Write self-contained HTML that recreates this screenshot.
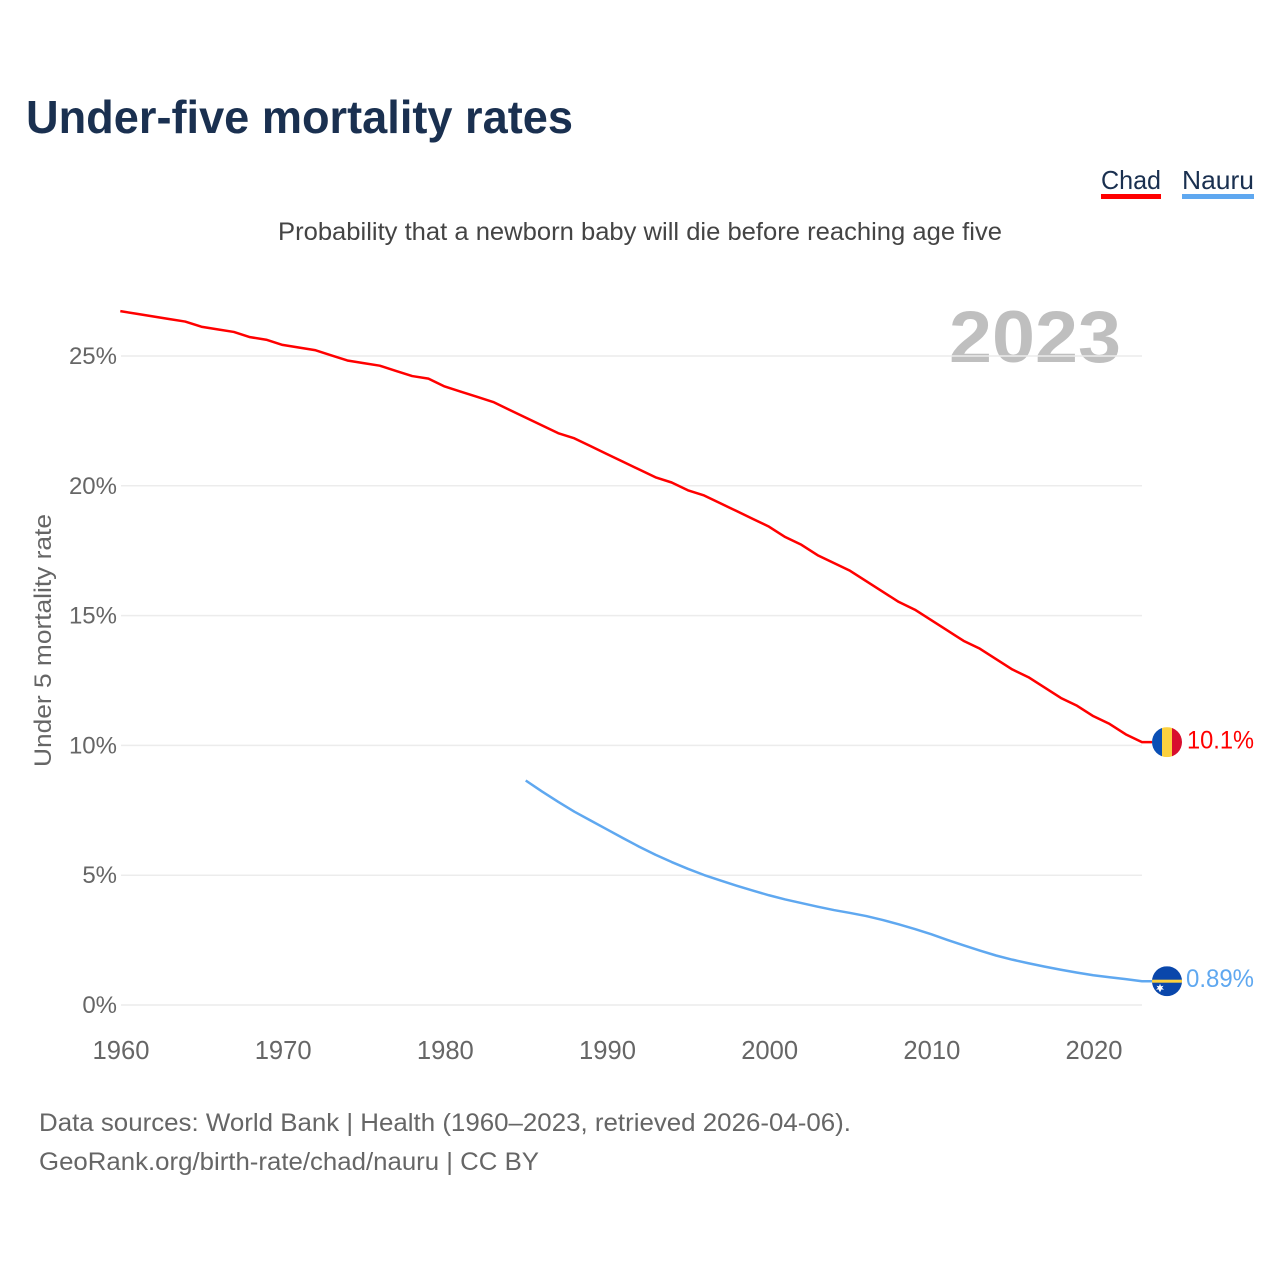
<!DOCTYPE html>
<html lang="en">
<head>
<meta charset="utf-8">
<title>Under-five mortality rates</title>
<style>
html,body{margin:0;padding:0;background:#fff;}
svg{display:block;}
text{font-family:"Liberation Sans",sans-serif;}
</style>
</head>
<body>
<svg id="chart" xmlns="http://www.w3.org/2000/svg" width="1280" height="1280" viewBox="0 0 1280 1280">
  <rect width="1280" height="1280" fill="#fff"/>
  <text x="26" y="133" font-size="46" font-weight="700" fill="#1a3050" textLength="547" lengthAdjust="spacingAndGlyphs">Under-five mortality rates</text>
  <g>
    <g>
      <text x="1101" y="189" font-size="26" fill="#1a3050" textLength="60" lengthAdjust="spacingAndGlyphs">Chad</text>
      <rect x="1101" y="194" width="60" height="5" fill="#ff0000"/>
    </g>
    <g>
      <text x="1182" y="189" font-size="26" fill="#1a3050" textLength="72" lengthAdjust="spacingAndGlyphs">Nauru</text>
      <rect x="1182" y="194" width="72" height="5" fill="#5fa8f0"/>
    </g>
  </g>
  <text x="278" y="240" font-size="25" fill="#444" textLength="724" lengthAdjust="spacingAndGlyphs">Probability that a newborn baby will die before reaching age five</text>
  <text x="949" y="362" font-size="73" font-weight="700" fill="#bfbfbf" textLength="172" lengthAdjust="spacingAndGlyphs">2023</text>
  <g id="grid"></g>
  <g id="yticks"></g>
  <g id="xticks"></g>
  <text transform="translate(51,767) rotate(-90)" x="0" y="0" font-size="24" fill="#666" textLength="253" lengthAdjust="spacingAndGlyphs">Under 5 mortality rate</text>
  <g id="series"></g>
  <defs>
    <clipPath id="flag-clip"><circle cx="0" cy="0" r="15"/></clipPath>
  </defs>
  <g id="flag-chad">
    <g clip-path="url(#flag-clip)">
      <rect x="-15" y="-15" width="10" height="30" fill="#0a4fb5"/>
      <rect x="-5" y="-15" width="10" height="30" fill="#fcd13f"/>
      <rect x="5" y="-15" width="10" height="30" fill="#d80f2e"/>
    </g>
  </g>
  <g id="flag-nauru">
    <g clip-path="url(#flag-clip)">
      <rect x="-15" y="-15" width="30" height="30" fill="#0a47ab"/>
      <rect x="-15" y="-1.5" width="30" height="3" fill="#fcd13f"/>
      <polygon points="-7,2.5 -6,5 -3.5,4.5 -5,6.5 -3,8.5 -5.5,8.2 -7,11 -8.5,8.2 -11,8.5 -9,6.5 -10.5,4.5 -8,5" fill="#fff"/>
    </g>
  </g>
  <text id="value-chad" x="1254" text-anchor="end" font-size="25" fill="#ff0000" textLength="67" lengthAdjust="spacingAndGlyphs">10.1%</text>
  <text id="value-nauru" x="1254" text-anchor="end" font-size="25" fill="#5fa8f0" textLength="68" lengthAdjust="spacingAndGlyphs">0.89%</text>
  <text x="39" y="1131" font-size="25" fill="#666" textLength="812" lengthAdjust="spacingAndGlyphs">Data sources: World Bank | Health (1960–2023, retrieved 2026-04-06).</text>
  <text x="39" y="1170" font-size="25" fill="#666" textLength="500" lengthAdjust="spacingAndGlyphs">GeoRank.org/birth-rate/chad/nauru | CC BY</text>
</svg>
<script>
var chadStartYear = 1960;
var nauruStartYear = 1985;
var chadValues = [26.7,26.6,26.5,26.4,26.3,26.1,26.0,25.9,25.7,25.6,25.4,25.3,25.2,25.0,24.8,24.7,24.6,24.4,24.2,24.1,23.8,23.6,23.4,23.2,22.9,22.6,22.3,22.0,21.8,21.5,21.2,20.9,20.6,20.3,20.1,19.8,19.6,19.3,19.0,18.7,18.4,18.0,17.7,17.3,17.0,16.7,16.3,15.9,15.5,15.2,14.8,14.4,14.0,13.7,13.3,12.9,12.6,12.2,11.8,11.5,11.1,10.8,10.4,10.1];
var nauruValues = [8.62,8.2,7.8,7.42,7.08,6.74,6.4,6.07,5.76,5.48,5.22,4.98,4.77,4.57,4.38,4.2,4.04,3.9,3.76,3.63,3.52,3.4,3.25,3.08,2.9,2.7,2.48,2.27,2.07,1.88,1.72,1.58,1.45,1.33,1.22,1.12,1.04,0.97,0.89];
var yTickValues = [0,5,10,15,20,25];
var xTickValues = [1960,1970,1980,1990,2000,2010,2020];

var NS = 'http://www.w3.org/2000/svg';
function x(year){ return 121 + (year - 1960) * 16.217; }
function y(v){ return 1005 - v * 25.96; }
function lineX(year){ return x(year) - 0.7; }
function lineY(v){ return y(v) - 0.7; }
function make(tag, parent){
  var el = document.createElementNS(NS, tag);
  parent.appendChild(el);
  return el;
}

var grid = document.getElementById('grid');
var yticks = document.getElementById('yticks');
yTickValues.forEach(function(v){
  var line = make('line', grid);
  
  
  line.setAttribute('x1', 121);
  line.setAttribute('x2', 1142);
  line.setAttribute('y1', y(v));
  line.setAttribute('y2', y(v));
  line.setAttribute('stroke', '#ececec');
  line.setAttribute('stroke-width', '1.5');
  var t = make('text', yticks);
  
  
  t.setAttribute('x', 117);
  t.setAttribute('y', y(v) + 8);
  t.setAttribute('text-anchor', 'end');
  t.setAttribute('font-size', '24');
  t.setAttribute('fill', '#666');
  t.textContent = v + '%';
});

var xticks = document.getElementById('xticks');
xTickValues.forEach(function(v){
  var t = make('text', xticks);
  
  
  t.setAttribute('x', x(v));
  t.setAttribute('y', 1059);
  t.setAttribute('text-anchor', 'middle');
  t.setAttribute('font-size', '25.6');
  t.setAttribute('fill', '#666');
  t.textContent = v;
});

function pathFor(values, start){
  return values.map(function(v, i){
    return (i ? 'L' : 'M') + lineX(start + i).toFixed(2) + ' ' + lineY(v).toFixed(2);
  }).join(' ');
}

var series = document.getElementById('series');

var chadLine = make('path', series);


chadLine.setAttribute('d', pathFor(chadValues, chadStartYear) + ' H1152');
chadLine.setAttribute('fill', 'none');
chadLine.setAttribute('stroke', '#ff0000');
chadLine.setAttribute('stroke-width', '2.5');
chadLine.setAttribute('stroke-linejoin', 'round');

var nauruLine = make('path', series);


nauruLine.setAttribute('d', pathFor(nauruValues, nauruStartYear) + ' H1152');
nauruLine.setAttribute('fill', 'none');
nauruLine.setAttribute('stroke', '#5fa8f0');
nauruLine.setAttribute('stroke-width', '2.5');
nauruLine.setAttribute('stroke-linejoin', 'round');

var chadEnd = lineY(chadValues[chadValues.length - 1]);
var nauruEnd = lineY(nauruValues[nauruValues.length - 1]);
document.getElementById('flag-chad').setAttribute('transform', 'translate(1167,' + chadEnd + ')');
document.getElementById('flag-nauru').setAttribute('transform', 'translate(1167,' + nauruEnd + ')');
document.getElementById('value-chad').setAttribute('y', chadEnd + 6.5);
document.getElementById('value-nauru').setAttribute('y', nauruEnd + 6);
</script>
</body>
</html>
